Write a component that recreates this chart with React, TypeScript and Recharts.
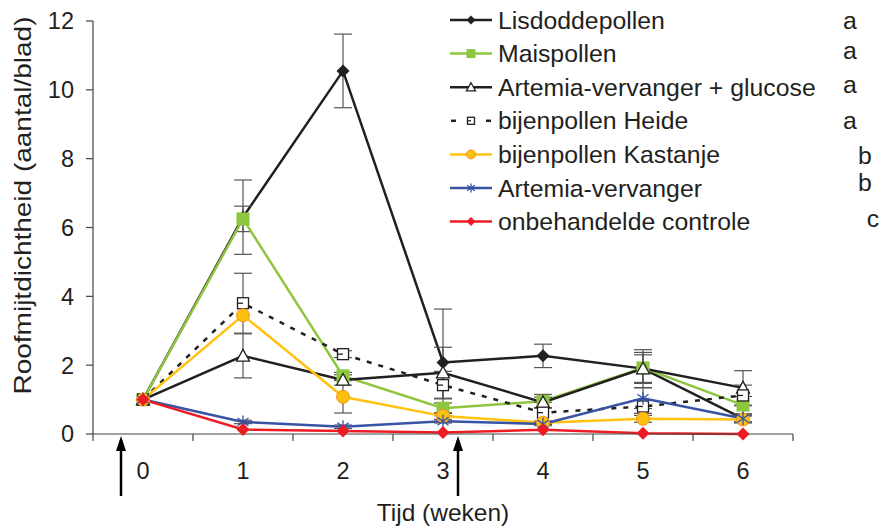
import React from "react";
import {
  LineChart,
  Line,
  XAxis,
  YAxis,
  ErrorBar,
  Legend,
} from "recharts";

// weeks after start (x categories) and their labels
const weeks = [0, 1, 2, 3, 4, 5, 6];
const weekLabels = ["0", "1", "2", "3", "4", "5", "6"];
// moments of release, drawn as arrows under the axis
const arrowAt = [-0.22, 3.15];
const yTicks = [0, 2, 4, 6, 8, 10, 12];

// mean predator density (aantal/blad) and its error
const lisdodde = [1.0, 6.3, 10.55, 2.08, 2.27, 1.9, 0.45];
const lisdoddeErr = [0, 1.08, 1.07, 1.55, 0.34, 0.55, 0.1];
const mais = [1.0, 6.25, 1.69, 0.75, 0.95, 1.92, 0.84];
const maisErr = [0, 0.37, 0.1, 0.15, 0.2, 0.45, 0.25];
const glucose = [1.0, 2.27, 1.57, 1.78, 0.92, 1.9, 1.34];
const glucoseErr = [0, 0.64, 0.15, 0.74, 0.15, 0.4, 0.5];
const heide = [1.0, 3.8, 2.32, 1.42, 0.62, 0.8, 1.12];
const heideErr = [0, 0.87, 0.1, 0.4, 0.3, 0.2, 0.3];
const kastanje = [1.0, 3.45, 1.08, 0.52, 0.33, 0.44, 0.42];
const kastanjeErr = [0, 0, 0.47, 0.1, 0.05, 0.1, 0.1];
const artemia = [1.0, 0.35, 0.21, 0.37, 0.29, 1.04, 0.45];
const artemiaErr = [0, 0.05, 0.05, 0.05, 0.05, 0.3, 0.1];
const controle = [1.0, 0.13, 0.09, 0.04, 0.12, 0.02, 0.0];

const names = [
  "Lisdoddepollen",
  "Maispollen",
  "Artemia-vervanger + glucose",
  "bijenpollen Heide",
  "bijenpollen Kastanje",
  "Artemia-vervanger",
  "onbehandelde controle",
];
const groups = ["a", "a", "a", "a", "b", "b", "c"];

const INK = "#231f20";
const FONT = "'Liberation Sans', Arial, Helvetica, sans-serif";

const series = [
  { key: "lis", name: names[0], values: lisdodde, err: lisdoddeErr, color: INK, shape: "diamond" },
  { key: "mais", name: names[1], values: mais, err: maisErr, color: "#8dc63f", shape: "square" },
  { key: "gluc", name: names[2], values: glucose, err: glucoseErr, color: INK, shape: "triangle" },
  { key: "heide", name: names[3], values: heide, err: heideErr, color: INK, shape: "openSquare", dash: "5 7" },
  { key: "kast", name: names[4], values: kastanje, err: kastanjeErr, color: "#ffc20e", shape: "circle" },
  { key: "art", name: names[5], values: artemia, err: artemiaErr, color: "#3953a4", shape: "star" },
  { key: "ctrl", name: names[6], values: controle, err: null, color: "#ed1c24", shape: "diamond" },
];

const rows = weeks.map((w, i) => {
  const row: Record<string, number> = { week: w };
  series.forEach((s) => {
    row[s.key] = s.values[i];
    if (s.err) row[s.key + "Err"] = s.err[i];
  });
  return row;
});

function Marker({ shape, cx, cy, color, small }: { shape: string; cx: number; cy: number; color: string; small?: boolean }) {
  const r = small ? 4.5 : 6.5;
  switch (shape) {
    case "diamond":
      return <polygon points={`${cx},${cy - r} ${cx + r},${cy} ${cx},${cy + r} ${cx - r},${cy}`} fill={color} />;
    case "square":
      return <rect x={cx - r} y={cy - r} width={r * 2} height={r * 2} fill={color} />;
    case "triangle":
      return (
        <polygon
          points={`${cx},${cy - r} ${cx + r},${cy + r * 0.8} ${cx - r},${cy + r * 0.8}`}
          fill="#fff"
          stroke={INK}
          strokeWidth={1.3}
        />
      );
    case "openSquare":
      return (
        <g>
          <rect x={cx - r + 1} y={cy - r + 1} width={r * 2 - 2} height={r * 2 - 2} fill="#fff" stroke={INK} strokeWidth={1.3} />
          <line x1={cx - r + 1} y1={cy} x2={cx} y2={cy} stroke={INK} strokeWidth={1.3} />
        </g>
      );
    case "circle":
      return <circle cx={cx} cy={cy} r={r} fill="#fdc010" stroke="#f7941d" strokeWidth={1} />;
    case "star":
      return (
        <g stroke={color} strokeWidth={1.3}>
          <line x1={cx} y1={cy - r} x2={cx} y2={cy + r} />
          <line x1={cx - r * 0.85} y1={cy - r * 0.6} x2={cx + r * 0.85} y2={cy + r * 0.6} />
          <line x1={cx - r * 0.85} y1={cy + r * 0.6} x2={cx + r * 0.85} y2={cy - r * 0.6} />
        </g>
      );
    default:
      return null;
  }
}

const boundaries = [...weeks.map((w) => w - 0.5), weeks[weeks.length - 1] + 0.5];
const xTicks = [...boundaries, ...weeks, ...arrowAt];

function XTick(props: any) {
  const { x, y, payload } = props;
  const v = payload.value;
  if (arrowAt.includes(v)) {
    return (
      <g>
        <line x1={x} y1={y - 1} x2={x} y2={y + 55} stroke="#000" strokeWidth={2.5} />
        <polygon points={`${x},${y - 5} ${x - 5},${y + 10} ${x + 5},${y + 10}`} fill="#000" />
      </g>
    );
  }
  const idx = weeks.indexOf(v);
  if (idx >= 0) {
    return (
      <text x={x} y={y + 30} textAnchor="middle" dominantBaseline="central" fontSize={23.5} fill={INK} fontFamily={FONT}>
        {weekLabels[idx]}
      </text>
    );
  }
  return <line x1={x} y1={y - 7} x2={x} y2={y} stroke="#444" strokeWidth={1.2} />;
}

function LegendBox() {
  const letterX: Record<string, number> = { a: 850, b: 865, c: 873 };
  const letterDy = [0, -3, -3, 0, 1, -6, -3];
  return (
    <svg width={882} height={240} style={{ display: "block" }}>
      {series.map((s, i) => {
        const y = 20 + i * 33.6;
        return (
          <g key={s.key}>
            {s.dash ? (
              <>
                <line x1={451} y1={y} x2={456} y2={y} stroke={s.color} strokeWidth={2.5} />
                <line x1={486} y1={y} x2={491} y2={y} stroke={s.color} strokeWidth={2.5} />
              </>
            ) : (
              <line x1={450} y1={y} x2={492} y2={y} stroke={s.color} strokeWidth={2.5} />
            )}
            <Marker shape={s.shape} cx={471} cy={y} color={s.color} small />
            <text x={498} y={y} dominantBaseline="central" fontSize={24.8} fill={INK} fontFamily={FONT}>
              {s.name}
            </text>
            <text x={letterX[groups[i]]} y={y + letterDy[i]} textAnchor="middle" dominantBaseline="central" fontSize={24.8} fill={INK} fontFamily={FONT}>
              {groups[i]}
            </text>
          </g>
        );
      })}
    </svg>
  );
}

export default function App() {
  return (
    <div style={{ position: "absolute", left: 0, top: 0, background: "#fff" }}>
      <LineChart width={882} height={527} data={rows} margin={{ top: 21, right: 89, bottom: 0, left: 33 }}>
        <XAxis
          dataKey="week"
          type="number"
          domain={[-0.5, 6.5]}
          ticks={xTicks}
          interval={0}
          tick={<XTick />}
          tickLine={false}
          tickSize={7}
          tickMargin={0}
          height={93}
          stroke="#444"
          strokeWidth={1.2}
          label={({ viewBox }: any) => (
            <text
              x={viewBox.x + viewBox.width / 2}
              y={viewBox.y + 78}
              textAnchor="middle"
              dominantBaseline="central"
              fontSize={24.5}
              fill={INK}
              fontFamily={FONT}
            >
              Tijd (weken)
            </text>
          )}
        />
        <YAxis
          domain={[0, 12]}
          ticks={yTicks}
          width={60}
          tickSize={7}
          tickMargin={12}
          stroke="#444"
          strokeWidth={1.2}
          tick={{ fontSize: 23.5, fill: INK, fontFamily: FONT }}
          label={({ viewBox }: any) => {
            const cx = viewBox.x - 11;
            const cy = viewBox.y + viewBox.height / 2 - 22;
            return (
              <text
                x={cx}
                y={cy}
                transform={`rotate(-90 ${cx} ${cy})`}
                textAnchor="middle"
                dominantBaseline="central"
                fontSize={24}
                textLength={378}
                lengthAdjust="spacingAndGlyphs"
                fill={INK}
                fontFamily={FONT}
              >
                Roofmijtdichtheid (aantal/blad)
              </text>
            );
          }}
        />
        <Legend
          layout="vertical"
          align="center"
          verticalAlign="middle"
          wrapperStyle={{ left: 0, top: 0, width: 882, height: 240 }}
          content={() => <LegendBox />}
        />
        {series.map((s) => (
          <Line
            key={s.key}
            dataKey={s.key}
            name={s.name}
            stroke={s.color}
            strokeWidth={2.5}
            strokeDasharray={s.dash}
            isAnimationActive={false}
            activeDot={false}
            dot={(p: any) => <Marker key={`${s.key}-${p.index}`} shape={s.shape} cx={p.cx} cy={p.cy} color={s.color} />}
          >
            {s.err && <ErrorBar dataKey={s.key + "Err"} width={9} stroke="#555" strokeWidth={1.2} direction="y" />}
          </Line>
        ))}
      </LineChart>
    </div>
  );
}
